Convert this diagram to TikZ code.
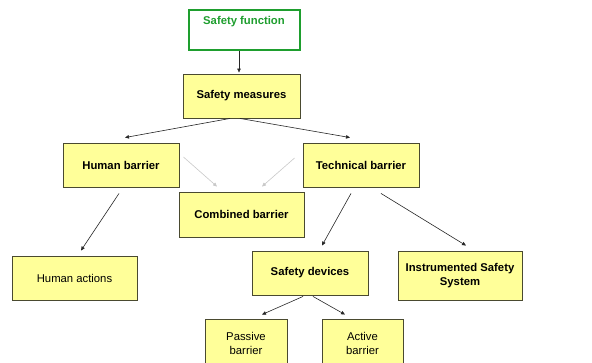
\documentclass[tikz,border=0pt]{standalone}
\usepackage{fontspec}
\setmainfont{Liberation Sans}
\usetikzlibrary{arrows.meta,calc}
\definecolor{boxfill}{HTML}{FFFF99}
\definecolor{boxline}{HTML}{4A4A30}
\definecolor{sfgreen}{HTML}{1E9E2E}
\definecolor{lightarr}{HTML}{C8C8C8}
\begin{document}
\begin{tikzpicture}[x=1pt,y=-1pt,
  ybox/.style={draw=boxline,line width=0.9pt,fill=boxfill,inner sep=0pt,align=center,
    font=\fontsize{11.3}{14}\selectfont\bfseries},
  ybn/.style={ybox,font=\fontsize{11.3}{14}\selectfont},
  arr/.style={draw=black!85,line width=0.6pt,-{Triangle[width=3.5pt,length=4pt]}},
  larr/.style={arr,draw=lightarr}]
\useasboundingbox (0,0) rectangle (592,363);
\node[draw=sfgreen,line width=2pt,fill=white,minimum width=111pt,minimum height=40pt] (sf) at (244,30.5) {};
\node[text=sfgreen,font=\fontsize{11.3}{14}\selectfont\bfseries] (sft) at (244,21.5) {Safety function};
\node[ybox,minimum width=117pt,minimum height=44pt] (sm) at (241.5,96) {Safety measures};
\node[ybox,minimum width=116pt,minimum height=44pt] (hb) at (121,165) {Human barrier};
\node[ybox,minimum width=116pt,minimum height=44pt] (tb) at (361,165) {Technical barrier};
\node[ybox,minimum width=125pt,minimum height=45pt] (cb) at (241.5,214.5) {Combined barrier};
\node[ybn,minimum width=125pt,minimum height=44pt] (ha) at (74.5,278) {Human actions};
\node[ybox,minimum width=116pt,minimum height=44pt] (sd) at (310,273) {Safety devices};
\node[ybox,minimum width=124pt,minimum height=49pt] (iss) at (460,275.5) {Instrumented Safety\\System};
\node[ybn,minimum width=82pt,minimum height=48pt] (pb) at (246,343) {Passive\\barrier};
\node[ybn,minimum width=81pt,minimum height=48pt] (ab) at (362.5,343) {Active\\barrier};
\draw[arr] ($(sf.south)+(-5,0)$) -- ($(sm.north)+(-2.5,-1)$);
\draw[arr] ($(sm.south)+(-11.5,0)$) -- ($(hb.north)+(4,-5)$);
\draw[arr] ($(sm.south)+(-1.5,0)$) -- ($(tb.north)+(-11,-5)$);
\draw[larr] ($(hb.east)+(4,-8)$) -- ($(cb.north)+(-24.5,-5)$);
\draw[larr] ($(tb.west)+(-8,-7)$) -- ($(cb.north)+(20.5,-5)$);
\draw[arr] ($(hb.south)+(-2,6)$) -- ($(ha.north)+(6.5,-5)$);
\draw[arr] ($(tb.south)+(-10,6)$) -- ($(sd.north)+(12,-5)$);
\draw[arr] ($(tb.south)+(20,6)$) -- ($(iss.north)+(6,-5)$);
\draw[arr] ($(sd.south)+(-7,1)$) -- ($(pb.north)+(16,-4)$);
\draw[arr] ($(sd.south)+(3,1)$) -- ($(ab.north)+(-17.5,-4)$);
\end{tikzpicture}
\end{document}
